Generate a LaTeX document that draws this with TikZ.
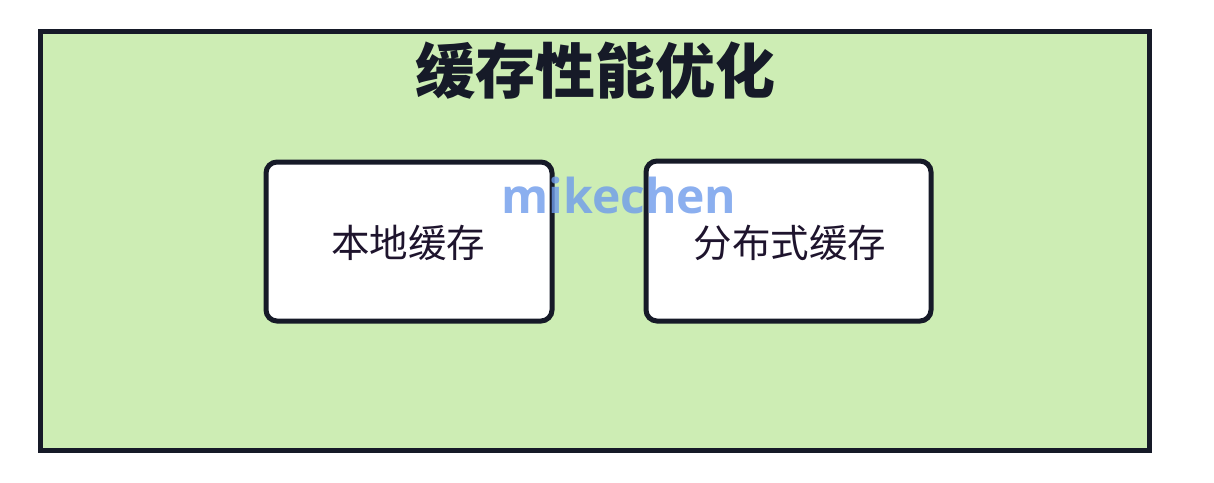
\documentclass[tikz,border=0pt]{standalone}
\usepackage{fontspec}
\newfontfamily\cjk{Noto Sans CJK SC}
\newfontfamily\wm{Open Sans}
\definecolor{fillgreen}{RGB}{205,237,180}
\definecolor{edge}{RGB}{22,26,40}
\definecolor{txt}{RGB}{30,20,45}
\definecolor{wmblue}{RGB}{110,155,235}
\tikzset{
  outer/.style={draw=edge, line width=5pt, fill=fillgreen},
  cachebox/.style={draw=edge, line width=5pt, fill=white, rounded corners=11pt},
  boxtext/.style={font=\cjk\fontsize{38.5}{42}\selectfont, text=txt},
}
\begin{document}
\begin{tikzpicture}[x=1pt,y=-1pt]
\useasboundingbox[fill=white] (0,0) rectangle (1214,482);
\draw[outer] (40,31.5) rectangle (1149.5,450.5);
\node[font=\cjk\bfseries\fontsize{60}{64}\selectfont, text=edge] (title) at (595,71) {缓存性能优化};
\draw[cachebox] (266,162) rectangle (552,321);
\draw[cachebox] (646,161) rectangle (931,321);
\node[boxtext] (local) at (408,243) {本地缓存};
\node[boxtext] (dist) at (790,243) {分布式缓存};
\node[font=\wm\bfseries\fontsize{48}{52}\selectfont, text=wmblue, text opacity=0.8] (wmk) at (619,195) {mikechen};
\end{tikzpicture}
\end{document}
